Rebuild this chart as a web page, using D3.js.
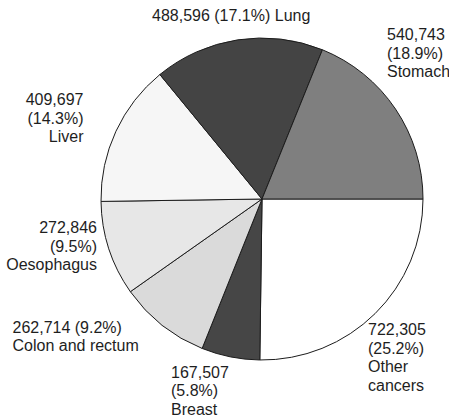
<!DOCTYPE html>
<html>
<head>
<meta charset="utf-8">
<script src="https://cdn.jsdelivr.net/npm/d3@7"></script>
<style>
  html, body { margin: 0; padding: 0; background: #fff; }
  svg { display: block; }
</style>
</head>
<body>
<svg id="chart" width="449" height="419"></svg>
<script>
// Cancer deaths by site (counts), drawn clockwise from 3 o'clock
const categories = ["Other cancers", "Breast", "Colon and rectum", "Oesophagus", "Liver", "Lung", "Stomach"];
const deaths = [722305, 167507, 262714, 272846, 409697, 488596, 540743];
const fills = ["#ffffff", "#464646", "#dadada", "#e7e7e7", "#f6f6f6", "#444444", "#7f7f7f"];

// How each label breaks into lines: v = value, p = percentage, n = name words
const labelLines = [
  [["v"], ["p"], ["n0"], ["n1"]],
  [["v"], ["p"], ["n"]],
  [["v", "p"], ["n"]],
  [["v"], ["p"], ["n"]],
  [["v"], ["p"], ["n"]],
  [["v", "p", "n"]],
  [["v"], ["p"], ["n"]]
];

// Label placement: anchor point of first baseline and text alignment
const labelLayout = [
  { x: 368, y: 335, anchor: "start" },
  { x: 171, y: 377.5, anchor: "start" },
  { x: 12.5, y: 332.5, anchor: "start" },
  { x: 97, y: 233, anchor: "end" },
  { x: 83.5, y: 105, anchor: "end" },
  { x: 152, y: 21, anchor: "start" },
  { x: 387, y: 40, anchor: "start" }
];

const cx = 262, cy = 199, radius = 161, lineHeight = 18.5;

const svg = d3.select("#chart");
const total = d3.sum(deaths);
const fmtValue = d3.format(",");
const fmtPct = v => "(" + (v / total * 100).toFixed(1) + "%)";

const rows = categories.map((c, i) => ({ name: c, value: deaths[i], fill: fills[i], i }));

const pie = d3.pie()
  .sort(null)
  .value(d => d.value)
  .startAngle(Math.PI / 2)
  .endAngle(Math.PI / 2 + 2 * Math.PI);

const arc = d3.arc().innerRadius(0).outerRadius(radius);

const g = svg.append("g").attr("transform", `translate(${cx},${cy})`);

g.selectAll("path.slice")
  .data(pie(rows))
  .join("path")
  .attr("class", "slice")
  .attr("d", arc)
  .attr("fill", d => d.data.fill)
  .attr("stroke", "#1c1c1c")
  .attr("stroke-width", 1)
  .attr("stroke-linejoin", "round");

function lineText(row, parts) {
  const words = row.name.split(" ");
  return parts.map(p => {
    if (p === "v") return fmtValue(row.value);
    if (p === "p") return fmtPct(row.value);
    if (p === "n") return row.name;
    return words[+p.slice(1)];
  }).join(" ");
}

const labels = svg.append("g")
  .attr("font-family", "'Liberation Sans', Arial, Helvetica, sans-serif")
  .attr("font-size", 16)
  .attr("fill", "#1e1e1e");

rows.forEach((row, i) => {
  const lay = labelLayout[i];
  const t = labels.append("text")
    .attr("x", lay.x)
    .attr("y", lay.y)
    .attr("text-anchor", lay.anchor);
  labelLines[i].forEach((parts, k) => {
    t.append("tspan")
      .attr("x", lay.x)
      .attr("y", lay.y + k * lineHeight)
      .text(lineText(row, parts));
  });
});
</script>
</body>
</html>
